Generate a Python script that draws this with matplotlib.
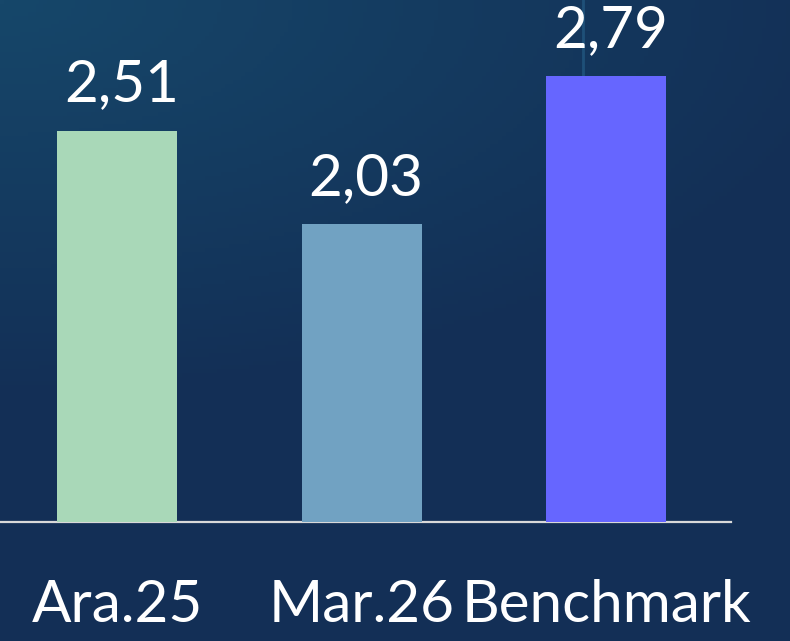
import matplotlib.pyplot as plt
import numpy as np

categories = ["Ara.25", "Mar.26", "Benchmark"]
values = [2.51, 2.03, 2.79]
value_labels = ["2,51", "2,03", "2,79"]
bar_colors = ["#a9d8b8", "#71a2c2", "#6666ff"]

plt.rcParams['font.family'] = ['Lato', 'DejaVu Sans']

fig = plt.figure(figsize=(7.9, 6.41), dpi=100)

# background gradient (dark blue, lighter towards top left)
bg = fig.add_axes([0, 0, 1, 1])
h, w = 160, 200
yy, xx = np.mgrid[0:1:h * 1j, 0:1:w * 1j]
c_light = np.array([0x16, 0x47, 0x6a]) / 255
c_dark = np.array([0x13, 0x2f, 0x56]) / 255
t = np.clip(np.sqrt((xx * 0.9) ** 2 + (yy * 1.6) ** 2), 0, 1)[..., None]
grad = c_light * (1 - t) + c_dark * t
bg.imshow(grad, aspect='auto', extent=[0, 1, 0, 1], origin='upper')
bg.plot([0.738, 0.738], [0.88, 1.0], color="#2a6a95", lw=2, alpha=0.5)
bg.set_xlim(0, 1)
bg.set_ylim(0, 1)
bg.axis('off')

# axis from x=0..731 px, baseline at y=522 px
ax = fig.add_axes([0, 1 - 522 / 641, 731 / 790, 522 / 641])
ax.patch.set_alpha(0)
x = np.arange(len(categories))
ax.bar(x, values, width=0.49, color=bar_colors, zorder=3)
ax.set_xlim(-0.48, 2.51)
ax.set_ylim(0.5, 0.5 + 522 / 194.7)

for xi, v, lab in zip(x, values, value_labels):
    ax.annotate(lab, (xi, v), xytext=(3, 21), textcoords='offset points',
                ha='center', va='baseline', color='white', fontsize=42)

ax.set_xticks(x, categories)
ax.tick_params(axis='x', length=0, pad=41, labelsize=42, labelcolor='white')
ax.set_yticks([])
for s in ['top', 'right', 'left']:
    ax.spines[s].set_visible(False)
ax.spines['bottom'].set_color('#d9d9d9')
ax.spines['bottom'].set_linewidth(1.6)

fig.savefig("out.png", dpi=100)
